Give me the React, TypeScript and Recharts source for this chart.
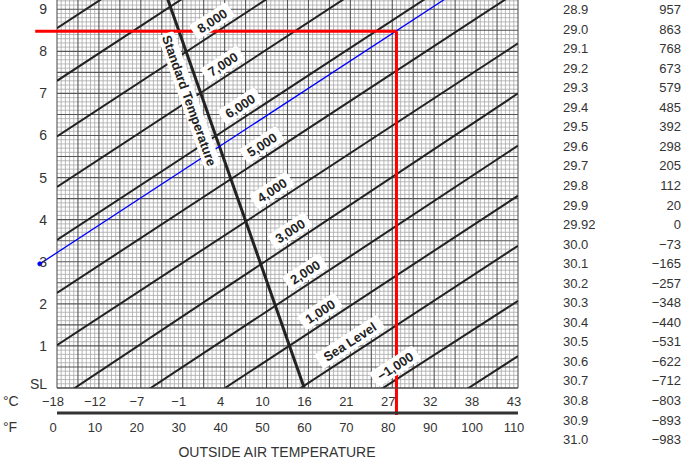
import {
  ComposedChart,
  Line,
  ReferenceDot,
  ReferenceLine,
  Scatter,
  XAxis,
  YAxis,
} from "recharts";

// axis ticks
const tempTicksF = [0, 10, 20, 30, 40, 50, 60, 70, 80, 90, 100, 110];
const tempLabelsC = ["−18", "−12", "−7", "−1", "4", "10", "16", "21", "27", "32", "38", "43"];
const altitudeTicks = [0, 1, 2, 3, 4, 5, 6, 7, 8, 9];

// pressure altitude lines: density altitude (thousands ft) read at 0 °F and 110 °F
const pressureAltitudes = [-2000, -1000, 0, 1000, 2000, 3000, 4000, 5000, 6000, 7000, 8000, 9000, 10000];
const densityAt0F = [-6.33, -5.0, -3.79, -2.62, -1.47, -0.28, 1.02, 2.26, 3.52, 4.78, 5.98, 7.3, 8.55];
const densityAt110F = [0.76, 2.07, 3.38, 4.57, 5.76, 7.0, 8.19, 9.43, 10.69, 11.95, 13.15, 14.47, 15.72];
const lineLabels = [null, "−1,000", "Sea Level", "1,000", "2,000", "3,000", "4,000", "5,000", "6,000", "7,000", "8,000", null, null];
const labelTempF = [null, 80.7, 69.9, 62.8, 59.2, 55.6, 51.3, 48.9, 43.7, 39.6, 37, null, null];

// standard temperature line
const standardTempF = [59, 25.5];
const standardDensity = [0, 9.5];

// example reading
const readingTempF = 81;
const readingDensity = 8.48;
const blueStart = { t: -4.1, da: 2.95 };
const blueEnd = { t: 95, da: 9.4 };

// pressure / altitude correction table
const pressureInHg = ["28.9", "29.0", "29.1", "29.2", "29.3", "29.4", "29.5", "29.6", "29.7", "29.8", "29.9", "29.92", "30.0", "30.1", "30.2", "30.3", "30.4", "30.5", "30.6", "30.7", "30.8", "30.9", "31.0"];
const altitudeCorrection = [957, 863, 768, 673, 579, 485, 392, 298, 205, 112, 20, 0, -73, -165, -257, -348, -440, -531, -622, -712, -803, -893, -983];

// graph paper rulings
const fineX = Array.from({ length: 111 }, (_, i) => i).filter((v) => v % 5 !== 0);
const medX = Array.from({ length: 23 }, (_, i) => i * 5);
const fineY = Array.from({ length: 93 }, (_, i) => i).filter((v) => v % 5 !== 0).map((v) => v / 10);
const medY = Array.from({ length: 19 }, (_, i) => i / 2);

const series = pressureAltitudes.map((pa, i) => ({
  pa,
  points: [
    { t: 0, da: densityAt0F[i] },
    { t: 110, da: densityAt110F[i] },
  ],
}));

const labelPoints = pressureAltitudes
  .map((pa, i) => {
    const t = labelTempF[i];
    if (t === null) return null;
    const da = densityAt0F[i] + ((densityAt110F[i] - densityAt0F[i]) * t) / 110;
    return { t, da, text: lineLabels[i] };
  })
  .filter(Boolean);

const stdPoints = [
  { t: standardTempF[0], da: standardDensity[0] },
  { t: standardTempF[1], da: standardDensity[1] },
];
const stdLabelDa = 6.83;
const stdLabel = [
  {
    t: standardTempF[0] + ((standardTempF[1] - standardTempF[0]) * stdLabelDa) / standardDensity[1],
    da: stdLabelDa,
    text: "Standard Temperature",
  },
];

const fmtMinus = (v: number) => (v < 0 ? "−" + Math.abs(v) : String(v));

function LineLabel(props: any) {
  const { cx, cy, payload } = props;
  const w = payload.text.length * 7.6 + 6;
  return (
    <g transform={`translate(${cx},${cy - 14}) rotate(-33)`}>
      <rect x={-w / 2} y={-8.5} width={w} height={17} rx={3} fill="#fff" />
      <text textAnchor="middle" dy="0.36em" fontSize={13} fontWeight="bold" fill="#222">
        {payload.text}
      </text>
    </g>
  );
}

function StdLabel(props: any) {
  const { cx, cy, payload } = props;
  const w = 142;
  return (
    <g transform={`translate(${cx - 14},${cy}) rotate(70.4)`}>
      <rect x={-w / 2} y={-8.5} width={w} height={17} rx={3} fill="#fff" />
      <text textAnchor="middle" dy="0.36em" fontSize={13} fontWeight="bold" fill="#222">
        {payload.text}
      </text>
    </g>
  );
}

function TickF(props: any) {
  const { x, y, payload } = props;
  return (
    <text x={x - 4} y={y} dy="0.71em" textAnchor="middle" fill="#333" fontSize={13}>
      {payload.value}
    </text>
  );
}

function TickC(props: any) {
  const { x, y, index } = props;
  return (
    <text x={x - 4} y={y} dy="0.71em" textAnchor="middle" fill="#333" fontSize={13}>
      {tempLabelsC[index]}
    </text>
  );
}

function TickY(props: any) {
  const { x, y, payload } = props;
  const v = payload.value;
  return (
    <text x={x} y={v === 0 ? y - 4 : y} dy="0.355em" textAnchor="end" fill="#333" fontSize={14}>
      {v === 0 ? "SL" : String(v)}
    </text>
  );
}

const fine = { stroke: "#a8a8a8", strokeWidth: 0.8 };
const med = { stroke: "#555", strokeWidth: 1.1 };

export default function App() {
  return (
    <div
      style={{
        position: "absolute",
        left: 0,
        top: 0,
        width: 688,
        height: 460,
        background: "#fff",
        overflow: "hidden",
        fontFamily: "'Liberation Sans', Arial, sans-serif",
        color: "#333",
      }}
    >
      <ComposedChart width={688} height={460} margin={{ top: 0, right: 170, bottom: 17, left: 0 }}>
        <XAxis
          xAxisId="c"
          type="number"
          dataKey="t"
          domain={[0, 110]}
          ticks={tempTicksF}
          interval={0}
          height={25}
          allowDataOverflow
          tickLine={false}
          tickSize={0}
          tickMargin={9}
          axisLine={{ stroke: "#444" }}
          tick={TickC}
        />
        <XAxis
          xAxisId="f"
          type="number"
          dataKey="t"
          domain={[0, 110]}
          ticks={tempTicksF}
          interval={0}
          height={30}
          allowDataOverflow
          tickLine={false}
          tickSize={0}
          tickMargin={10}
          axisLine={{ stroke: "#333", strokeWidth: 3 }}
          tick={TickF}
        />
        <YAxis
          yAxisId="y"
          type="number"
          domain={[0, 9.22]}
          ticks={altitudeTicks}
          interval={0}
          width={57}
          allowDataOverflow
          tickLine={false}
          axisLine={false}
          tickSize={0}
          tickMargin={10}
          tick={TickY}
        />

        {fineX.map((v) => (
          <ReferenceLine key={"fx" + v} xAxisId="f" yAxisId="y" x={v} {...fine} />
        ))}
        {fineY.map((v) => (
          <ReferenceLine key={"fy" + v} xAxisId="f" yAxisId="y" y={v} {...fine} />
        ))}
        {medX.map((v) => (
          <ReferenceLine key={"mx" + v} xAxisId="f" yAxisId="y" x={v} {...med} />
        ))}
        {medY.map((v) => (
          <ReferenceLine key={"my" + v} xAxisId="f" yAxisId="y" y={v} {...med} />
        ))}

        {series.map((s) => (
          <Line
            key={s.pa}
            xAxisId="f"
            yAxisId="y"
            data={s.points}
            dataKey="da"
            type="linear"
            stroke="#222"
            strokeWidth={2}
            dot={false}
            activeDot={false}
            isAnimationActive={false}
          />
        ))}
        <Line
          xAxisId="f"
          yAxisId="y"
          data={stdPoints}
          dataKey="da"
          type="linear"
          stroke="#222"
          strokeWidth={3}
          dot={false}
          activeDot={false}
          isAnimationActive={false}
        />
        <Scatter
          xAxisId="f"
          yAxisId="y"
          data={labelPoints}
          dataKey="da"
          shape={LineLabel}
          isAnimationActive={false}
        />
        <Scatter
          xAxisId="f"
          yAxisId="y"
          data={stdLabel}
          dataKey="da"
          shape={StdLabel}
          isAnimationActive={false}
        />

        <ReferenceLine
          xAxisId="f"
          yAxisId="y"
          segment={[
            { x: blueStart.t, y: blueStart.da },
            { x: blueEnd.t, y: blueEnd.da },
          ]}
          ifOverflow="visible"
          stroke="#0000ff"
          strokeWidth={1.3}
        />
        <ReferenceDot
          xAxisId="f"
          yAxisId="y"
          x={blueStart.t}
          y={blueStart.da}
          r={2}
          fill="#0000ff"
          stroke="#0000ff"
          ifOverflow="visible"
        />
        <ReferenceLine
          xAxisId="f"
          yAxisId="y"
          segment={[
            { x: -5.2, y: readingDensity },
            { x: readingTempF, y: readingDensity },
          ]}
          ifOverflow="visible"
          stroke="#ff0000"
          strokeWidth={3}
        />
        <ReferenceLine
          xAxisId="f"
          yAxisId="y"
          segment={[
            { x: readingTempF, y: readingDensity },
            { x: readingTempF, y: -0.64 },
          ]}
          ifOverflow="visible"
          stroke="#ff0000"
          strokeWidth={3}
        />
      </ComposedChart>

      <div style={{ position: "absolute", left: 3, top: 393, fontSize: 14 }}>°C</div>
      <div style={{ position: "absolute", left: 3, top: 419, fontSize: 14 }}>°F</div>
      <div
        style={{
          position: "absolute",
          left: 177,
          top: 444,
          width: 200,
          textAlign: "center",
          fontSize: 14,
          whiteSpace: "nowrap",
        }}
      >
        OUTSIDE AIR TEMPERATURE
      </div>

      {pressureInHg.map((p, i) => (
        <div
          key={p}
          style={{
            position: "absolute",
            left: 563,
            width: 118,
            top: 2 + i * 19.55,
            height: 16,
            fontSize: 13,
            lineHeight: "16px",
            display: "flex",
            justifyContent: "space-between",
          }}
        >
          <span>{p}</span>
          <span>{fmtMinus(altitudeCorrection[i])}</span>
        </div>
      ))}
    </div>
  );
}
